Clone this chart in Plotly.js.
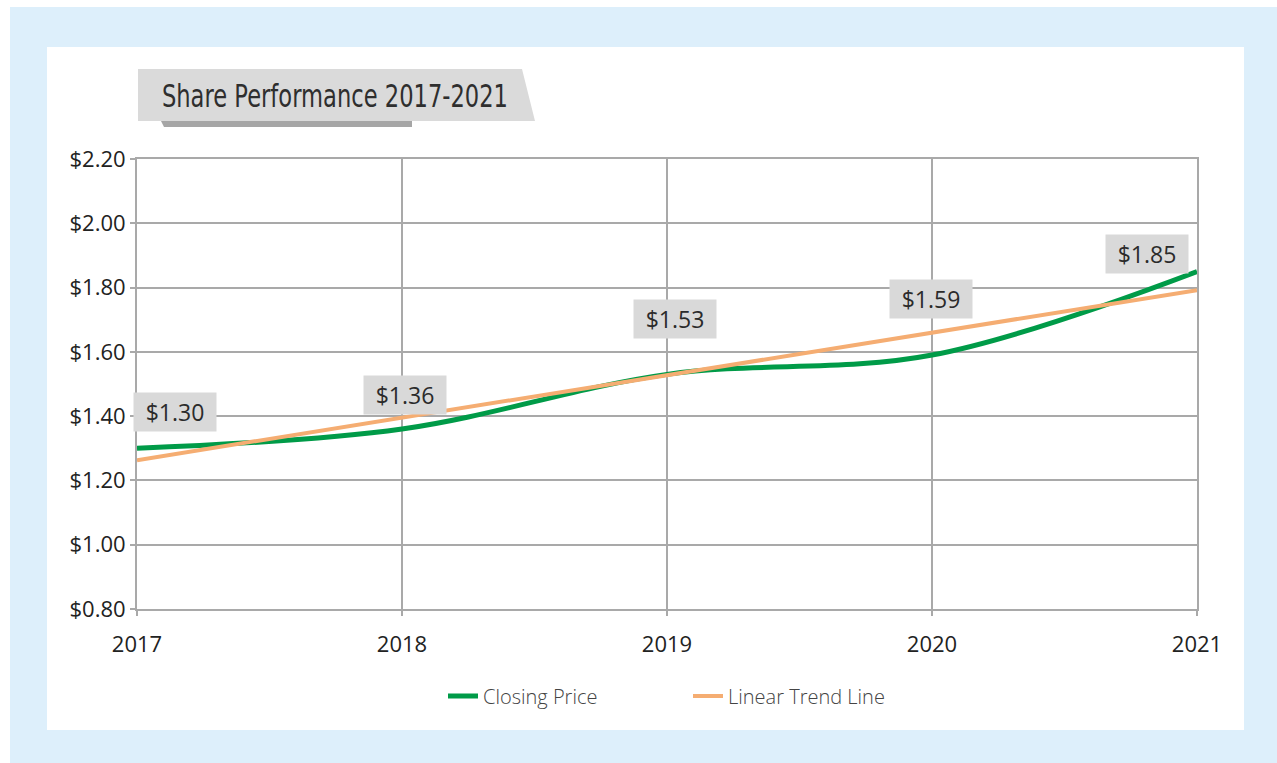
<!DOCTYPE html>
<html>
<head>
<meta charset="utf-8">
<script src="https://cdn.plot.ly/plotly-3.0.1.min.js"></script>
<style>
html,body{margin:0;padding:0;background:#ffffff;}
#chart{width:1277px;height:763px;}
</style>
</head>
<body>
<div id="chart"></div>
<script>
const years = [2017, 2018, 2019, 2020, 2021];
const closingPrice = [1.30, 1.36, 1.53, 1.59, 1.85];
const trendYears = [2017, 2021];
const trendValues = [1.263, 1.792];
const priceLabels = ['$1.30', '$1.36', '$1.53', '$1.59', '$1.85'];
const chartTitle = 'Share Performance 2017-2021';
const seriesNames = ['Closing Price', 'Linear Trend Line'];

// label offsets in pixels (x, y-up)
const labelShift = [[38, 36], [3, 34], [8, 55], [-1, 56], [-50, 18]];

// plot area in pixels: x 137..1197, y 159..609
const PL = 137, PR = 1197, PT = 159, PB = 609;
const px = x => (x - PL) / (PR - PL);
const py = y => (PB - y) / (PB - PT);

const traces = [
  {
    x: years, y: closingPrice, name: seriesNames[0], type: 'scatter', mode: 'lines',
    line: {color: '#009b48', width: 5, shape: 'spline', smoothing: 1},
    hoverinfo: 'skip'
  },
  {
    x: trendYears, y: trendValues, name: seriesNames[1], type: 'scatter', mode: 'lines',
    line: {color: '#f5ad72', width: 4},
    hoverinfo: 'skip'
  }
];

const annotations = priceLabels.map((t, i) => ({
  x: years[i], y: closingPrice[i], xref: 'x', yref: 'y',
  text: t, showarrow: false,
  xshift: labelShift[i][0], yshift: labelShift[i][1],
  bgcolor: '#d9d9d9', width: 72, height: 28, borderpad: 5,
  font: {family: 'Open Sans, sans-serif', size: 23, color: '#2b2b2b'}
}));

annotations.push({
  xref: 'paper', yref: 'paper', x: px(335), y: py(96), xanchor: 'center', yanchor: 'middle',
  text: chartTitle, showarrow: false,
  font: {family: 'DejaVu Sans, sans-serif', size: 32, color: '#2e2e2e'}
});

const shapes = [
  // light blue frame
  {type: 'rect', xref: 'paper', yref: 'paper', layer: 'below',
   x0: px(10), x1: px(1277), y0: py(763), y1: py(7),
   fillcolor: '#ddeffb', line: {width: 0}},
  // white panel
  {type: 'rect', xref: 'paper', yref: 'paper', layer: 'below',
   x0: px(47), x1: px(1244), y0: py(730), y1: py(47),
   fillcolor: '#ffffff', line: {width: 0}},
  // title shadow
  {type: 'path', xref: 'paper', yref: 'paper', layer: 'below',
   path: `M ${px(160)} ${py(119)} L ${px(412)} ${py(119)} L ${px(412)} ${py(127)} L ${px(164)} ${py(127)} Z`,
   fillcolor: '#a6a6a6', line: {width: 0}},
  // title box
  {type: 'path', xref: 'paper', yref: 'paper', layer: 'below',
   path: `M ${px(138)} ${py(69)} L ${px(522)} ${py(69)} L ${px(535)} ${py(121)} L ${px(138)} ${py(121)} Z`,
   fillcolor: '#dadada', line: {width: 0}}
];

const layout = {
  width: 1277, height: 763,
  margin: {l: PL, r: 1277 - PR, t: PT, b: 763 - PB, pad: 0},
  paper_bgcolor: '#ffffff',
  plot_bgcolor: '#ffffff',
  showlegend: true,
  legend: {
    orientation: 'h', x: px(443), xanchor: 'left', y: py(696), yanchor: 'middle',
    font: {family: 'Open Sans, sans-serif', size: 20, color: '#444444', weight: 300},
    entrywidth: 200, bgcolor: 'rgba(0,0,0,0)'
  },
  xaxis: {
    range: [2017, 2021], dtick: 1, tick0: 2017, tickformat: 'd',
    showgrid: true, gridcolor: '#a9a9a9', gridwidth: 2,
    showline: true, linecolor: '#a9a9a9', linewidth: 2, mirror: true,
    ticks: 'outside', ticklen: 5, tickcolor: '#a9a9a9', tickwidth: 2,
    ticklabelstandoff: 10,
    zeroline: false, fixedrange: true,
    tickfont: {family: 'Open Sans, sans-serif', size: 22, color: '#222222'}
  },
  yaxis: {
    range: [0.8, 2.2], dtick: 0.2, tick0: 0.8, tickformat: '.2f', tickprefix: '$',
    showgrid: true, gridcolor: '#a9a9a9', gridwidth: 2,
    showline: true, linecolor: '#a9a9a9', linewidth: 2, mirror: true,
    ticks: 'outside', ticklen: 5, tickcolor: '#a9a9a9', tickwidth: 2,
    zeroline: false, fixedrange: true,
    tickfont: {family: 'Open Sans, sans-serif', size: 22, color: '#222222'}
  },
  shapes: shapes,
  annotations: annotations
};

Plotly.newPlot('chart', traces, layout, {displayModeBar: false, staticPlot: true}).then(gd => {
  // condense the title text to match the narrow typeface of the original
  const t = gd.querySelector('g.annotation[data-index="5"] text.annotation-text');
  if (t) {
    t.setAttribute('textLength', '346');
    t.setAttribute('lengthAdjust', 'spacingAndGlyphs');
  }
});
</script>
</body>
</html>
